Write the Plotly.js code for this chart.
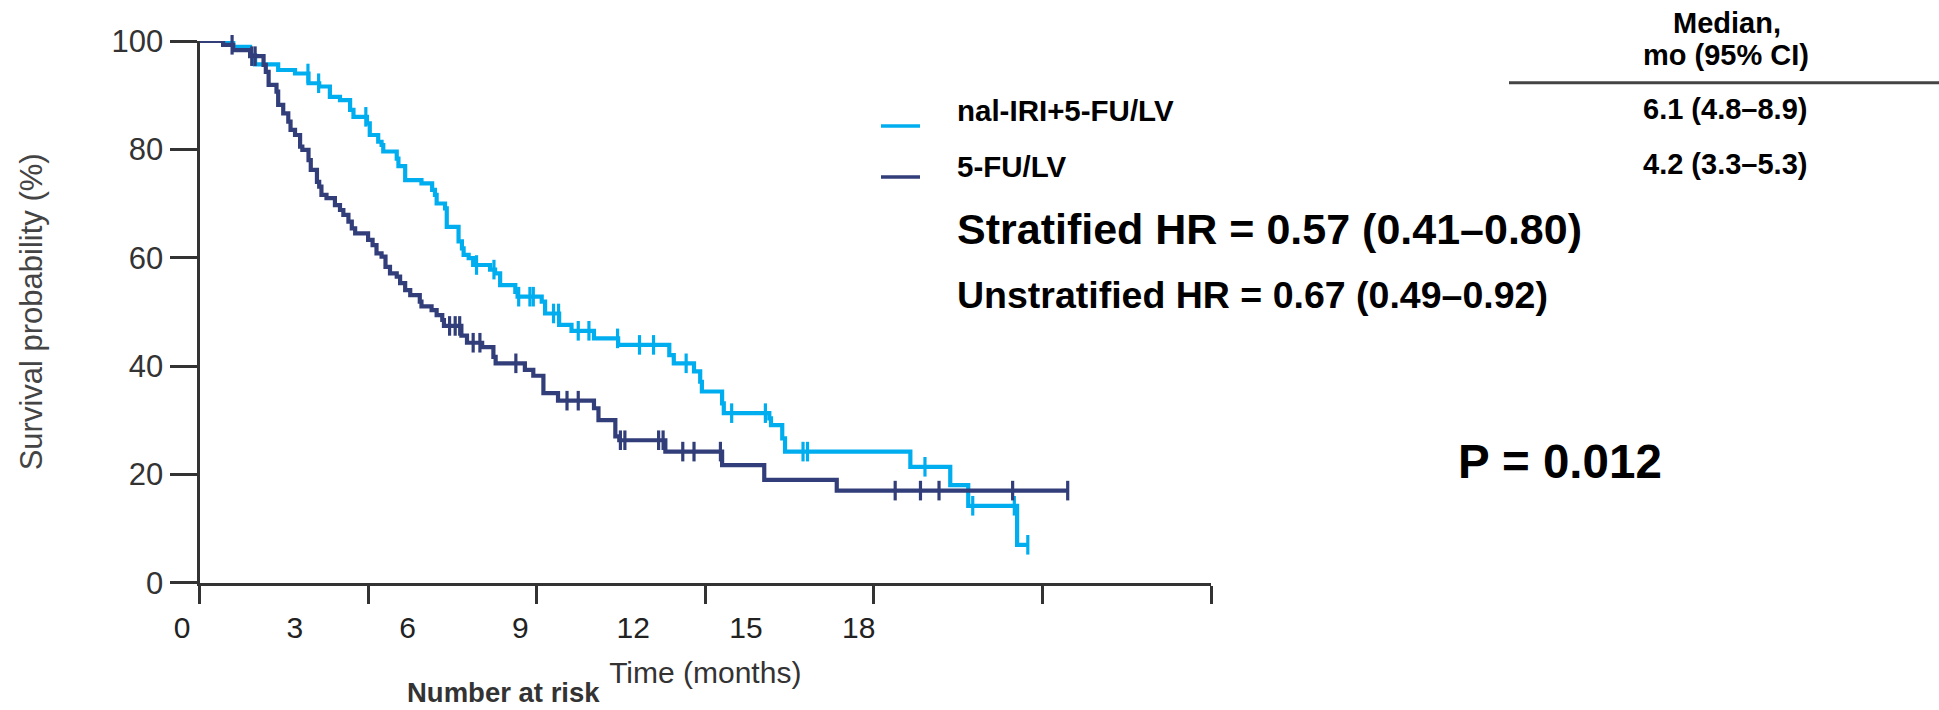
<!DOCTYPE html>
<html>
<head>
<meta charset="utf-8">
<script src="https://cdn.plot.ly/plotly-3.0.1.min.js"></script>
<style>
html, body { margin: 0; padding: 0; background: #ffffff; }
#chart { width: 1939px; height: 710px; }
</style>
</head>
<body>
<div id="chart"></div>
<script>
// ---------------- data ----------------
const armNames = ['nal-IRI+5-FU/LV', '5-FU/LV'];
const medianLabels = ['6.1 (4.8–8.9)', '4.2 (3.3–5.3)'];
const medianHeader = ['Median,', 'mo (95% CI)'];
const hrLabels = ['Stratified HR = 0.57 (0.41–0.80)', 'Unstratified HR = 0.67 (0.49–0.92)'];
const pLabel = 'P = 0.012';

// nal-IRI+5-FU/LV : step times (months) and survival (%) after each step
const lightTimes = [0, 0.60, 0.90, 0.99, 1.40, 1.70, 1.94, 2.13, 2.32, 2.50,
  2.68, 2.74, 2.98, 3.03, 3.18, 3.24, 3.27, 3.51, 3.54, 3.66,
  3.95, 4.14, 4.19, 4.22, 4.37, 4.40, 4.61, 4.67, 4.70, 4.79,
  4.87, 5.17, 5.26, 5.35, 5.62, 5.66, 6.09, 6.15, 6.40, 6.62,
  7.02, 7.45, 8.36, 8.44, 8.80, 8.91, 8.94, 9.30, 9.33, 10.14,
  10.17, 10.37, 10.42, 12.65, 13.36, 13.68, 14.55];
const lightSurv = [100, 98.9, 97.4, 95.7, 94.65, 94.0, 92.2, 91.6, 89.7, 89.1,
  87.3, 86.0, 84.8, 82.65, 81.4, 80.8, 79.6, 78.3, 76.9, 74.3,
  73.7, 72.5, 71.6, 70.0, 69.1, 65.7, 63.0, 61.7, 60.5, 59.9,
  58.65, 57.8, 57.1, 54.95, 53.7, 52.8, 51.9, 49.7, 47.6, 46.5,
  45.1, 43.9, 42.0, 40.5, 39.0, 37.1, 35.3, 33.1, 31.3, 30.35,
  29.1, 26.65, 24.2, 21.4, 18.0, 14.2, 7.0];
const lightEnd = 14.74;
const lightCensor = [1.93, 2.12, 2.96, 4.93, 5.24, 5.68, 5.88, 5.94, 6.30, 6.39,
  6.74, 6.93, 7.44, 7.83, 8.08, 8.66, 9.47, 10.07, 10.74, 10.82,
  12.91, 13.76, 14.50, 14.74];

// 5-FU/LV
const darkTimes = [0, 0.42, 0.60, 0.90, 1.14, 1.18, 1.23, 1.37, 1.40, 1.49,
  1.58, 1.62, 1.70, 1.79, 1.83, 1.94, 1.98, 2.09, 2.13, 2.17,
  2.26, 2.41, 2.50, 2.56, 2.65, 2.71, 2.77, 3.00, 3.08, 3.15,
  3.24, 3.31, 3.39, 3.51, 3.57, 3.66, 3.75, 3.92, 3.95, 4.13,
  4.22, 4.32, 4.35, 4.66, 4.76, 5.03, 5.23, 5.27, 5.79, 5.94,
  6.12, 6.38, 7.02, 7.10, 7.40, 7.47, 8.29, 9.30, 10.05, 11.34];
const darkSurv = [100, 99.3, 98.3, 97.2, 95.6, 94.3, 91.9, 90.65, 88.2, 86.65,
  85.1, 83.6, 82.65, 80.5, 79.9, 78.0, 76.2, 74.0, 73.1, 71.6,
  71.0, 69.7, 68.8, 67.9, 66.65, 65.4, 64.5, 63.3, 62.3, 60.8,
  60.2, 58.3, 57.1, 56.5, 55.3, 54.0, 53.1, 51.9, 51.0, 50.3,
  49.4, 48.5, 47.4, 45.6, 44.3, 43.5, 41.7, 40.5, 39.3, 38.2,
  35.0, 33.6, 32.2, 30.0, 27.0, 26.3, 24.2, 21.7, 19.0, 17.0];
const darkEnd = 15.45;
const darkCensor = [0.58, 0.93, 0.99, 4.45, 4.55, 4.63, 4.87, 4.99, 5.63, 6.54,
  6.74, 7.49, 7.57, 8.17, 8.25, 8.60, 8.80, 9.27, 12.38, 12.83,
  13.16, 14.47, 15.45];

// axes
const xTickVals = [0, 3, 6, 9, 12, 15, 18];
const xLabelVals = [0, 3, 6, 9, 12, 15, 18];
const xLabelText = ['0', '3', '6', '9', '12', '15', '18'];
const yTickVals = [0, 20, 40, 60, 80, 100];

// ---------------- styling ----------------
const LIGHT = '#00AEEF';
const DARK = '#323E7A';
const AXC = '#333333';
const FONT = 'Liberation Sans, Arial, Helvetica, sans-serif';
const W = 1939, H = 710;
const PX = v => v / W;
const PY = v => 1 - v / H;

function stepAt(times, surv, t) {
  let v = surv[0];
  for (let i = 0; i < times.length; i++) { if (times[i] <= t) v = surv[i]; }
  return v;
}
function curve(times, surv, end, color, name) {
  return {
    type: 'scatter', mode: 'lines', name: name,
    x: times.concat([end]), y: surv.concat([surv[surv.length - 1]]),
    line: {shape: 'hv', color: color, width: 4.2},
    xaxis: 'x', yaxis: 'y', hoverinfo: 'skip', cliponaxis: false
  };
}
function censors(times, surv, cens, color, name) {
  return {
    type: 'scatter', mode: 'markers', name: name + ' censored',
    x: cens, y: cens.map(t => stepAt(times, surv, t)),
    marker: {symbol: 'line-ns', size: 14, line: {color: color, width: 3.2}, color: color},
    xaxis: 'x', yaxis: 'y', hoverinfo: 'skip', cliponaxis: false, showlegend: false
  };
}

const traces = [
  curve(lightTimes, lightSurv, lightEnd, LIGHT, armNames[0]),
  censors(lightTimes, lightSurv, lightCensor, LIGHT, armNames[0]),
  curve(darkTimes, darkSurv, darkEnd, DARK, armNames[1]),
  censors(darkTimes, darkSurv, darkCensor, DARK, armNames[1]),
  // empty trace that carries the tick-label axis
  {type: 'scatter', mode: 'lines', x: [], y: [], xaxis: 'x2', yaxis: 'y',
    hoverinfo: 'skip', showlegend: false}
];

// tick-label axis geometry (labels sit at their own spacing)
const labelPx0 = 182, labelPxPerUnit = 37.6;
const lab0 = (163 - labelPx0) / labelPxPerUnit;
const lab1 = (1211 - labelPx0) / labelPxPerUnit;

function txt(text, x, y, size, anchor, color) {
  return {text: text, x: PX(x), y: PY(y), xref: 'paper', yref: 'paper',
    xanchor: anchor || 'left', yanchor: 'middle', showarrow: false,
    font: {family: FONT, size: size, color: color || '#000'}};
}

const layout = {
  width: W, height: H,
  margin: {l: 0, r: 0, t: 0, b: 0},
  paper_bgcolor: '#ffffff', plot_bgcolor: 'rgba(0,0,0,0)',
  showlegend: false,
  font: {family: FONT, color: AXC},
  xaxis: {
    domain: [PX(199.5), PX(1211)], range: [0, 18], anchor: 'y',
    tickmode: 'array', tickvals: xTickVals, showticklabels: false,
    ticks: 'outside', ticklen: 18, tickwidth: 3, tickcolor: AXC,
    showline: true, linewidth: 3, linecolor: AXC, showgrid: false, zeroline: false,
    title: {text: 'Time (months)', font: {family: FONT, size: 30, color: '#333'}, standoff: 60}
  },
  xaxis2: {
    domain: [PX(163), PX(1211)], range: [lab0, lab1], anchor: 'y',
    tickmode: 'array', tickvals: xLabelVals, ticktext: xLabelText,
    ticks: 'outside', ticklen: 18, tickwidth: 1, tickcolor: 'rgba(0,0,0,0)',
    showline: false, showgrid: false, zeroline: false,
    tickfont: {family: FONT, size: 30, color: '#222'}
  },
  yaxis: {
    domain: [PY(582.7), PY(41)], range: [0, 100], anchor: 'x',
    tickmode: 'array', tickvals: yTickVals,
    ticks: 'outside', ticklen: 27, tickwidth: 3, tickcolor: AXC,
    showline: true, linewidth: 3, linecolor: AXC, showgrid: false, zeroline: false,
    tickfont: {family: FONT, size: 31, color: '#333'},
    title: {text: 'Survival probability (%)', font: {family: FONT, size: 31, color: '#444'}, standoff: 60}
  },
  shapes: [
    {type: 'line', xref: 'paper', yref: 'paper', x0: PX(881), x1: PX(920), y0: PY(126), y1: PY(126),
      line: {color: LIGHT, width: 3.5}},
    {type: 'line', xref: 'paper', yref: 'paper', x0: PX(881), x1: PX(920), y0: PY(177), y1: PY(177),
      line: {color: DARK, width: 3.5}},
    {type: 'line', xref: 'paper', yref: 'paper', x0: PX(1509), x1: PX(1939), y0: PY(82.7), y1: PY(82.7),
      line: {color: '#444', width: 3}}
  ],
  annotations: [
    txt('<b>' + armNames[0] + '</b>', 955, 110.3, 29.5),
    txt('<b>' + armNames[1] + '</b>', 955, 166.7, 29.5),
    txt('<b>' + medianHeader[0] + '</b>', 1727, 23, 29, 'center'),
    txt('<b>' + medianHeader[1] + '</b>', 1726, 55, 29, 'center'),
    txt('<b>' + medianLabels[0] + '</b>', 1725, 109, 29, 'center'),
    txt('<b>' + medianLabels[1] + '</b>', 1725, 164, 29, 'center'),
    txt('<b>' + hrLabels[0] + '</b>', 955, 229, 43),
    txt('<b>' + hrLabels[1] + '</b>', 955, 295, 37.5),
    txt('<b>' + pLabel + '</b>', 1456, 461, 47.5),
    txt('<b>Number at risk</b>', 504, 692, 27.5, 'center', '#333')
  ]
};

Plotly.newPlot('chart', traces, layout, {staticPlot: true, displayModeBar: false});
</script>
</body>
</html>
